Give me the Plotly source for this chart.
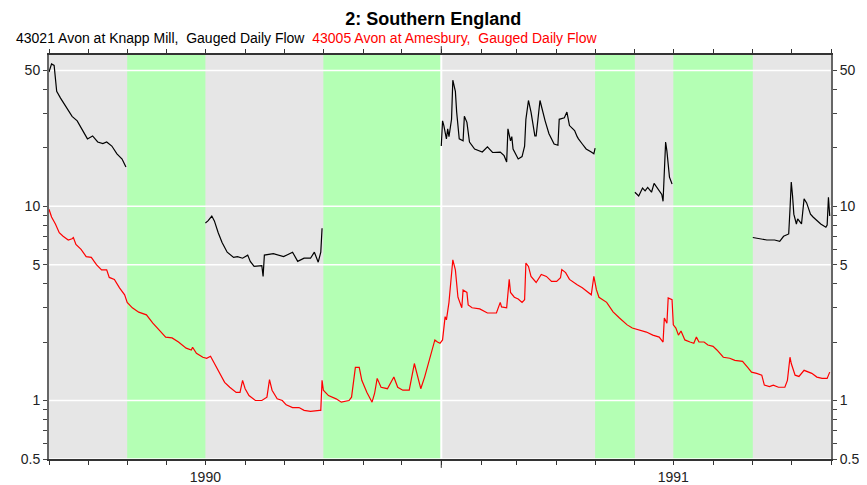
"""Southern England river flows, 1990-1991, log scale."""

import math

import pandas as pd
import plotly.graph_objects as go

# 43021 Avon at Knapp Mill, gauged daily flow (None = not shown)
knapp_dates = [
    '1990-03-01', '1990-03-03', '1990-03-05', '1990-03-06', '1990-03-07', '1990-03-10',
    '1990-03-14', '1990-03-19', '1990-03-23', '1990-03-27', '1990-03-31', '1990-04-04',
    '1990-04-08', '1990-04-12', '1990-04-15', '1990-04-19', '1990-04-23', '1990-04-27',
    '1990-04-30', '1990-05-15',
    '1990-07-01', '1990-07-03', '1990-07-06', '1990-07-08', '1990-07-11', '1990-07-14',
    '1990-07-18', '1990-07-23', '1990-07-26', '1990-07-30', '1990-08-03', '1990-08-05',
    '1990-08-08', '1990-08-14', '1990-08-15', '1990-08-16', '1990-08-23', '1990-08-31',
    '1990-09-07', '1990-09-11', '1990-09-16', '1990-09-21', '1990-09-24', '1990-09-27',
    '1990-09-29', '1990-09-30', '1990-11-15',
    '1991-01-01', '1991-01-02', '1991-01-03', '1991-01-05', '1991-01-06', '1991-01-07',
    '1991-01-09', '1991-01-10', '1991-01-12', '1991-01-13', '1991-01-15', '1991-01-18',
    '1991-01-19', '1991-01-21', '1991-01-23', '1991-01-27', '1991-02-02', '1991-02-06',
    '1991-02-10', '1991-02-16', '1991-02-19', '1991-02-21', '1991-02-22', '1991-02-24',
    '1991-02-25', '1991-02-26', '1991-03-02', '1991-03-05', '1991-03-07', '1991-03-08',
    '1991-03-10', '1991-03-12', '1991-03-15', '1991-03-16', '1991-03-19', '1991-03-21',
    '1991-03-23', '1991-03-26', '1991-03-30', '1991-04-02', '1991-04-03', '1991-04-07',
    '1991-04-09', '1991-04-11', '1991-04-15', '1991-04-17', '1991-04-18', '1991-04-21',
    '1991-04-24', '1991-04-28', '1991-04-30', '1991-05-01', '1991-05-15',
    '1991-06-01', '1991-06-04', '1991-06-07', '1991-06-09', '1991-06-11', '1991-06-14',
    '1991-06-16', '1991-06-19', '1991-06-22', '1991-06-23', '1991-06-24', '1991-06-25',
    '1991-06-26', '1991-06-27', '1991-06-28', '1991-06-30', '1991-08-01',
    '1991-09-01', '1991-09-07', '1991-09-12', '1991-09-18', '1991-09-22', '1991-09-25',
    '1991-09-29', '1991-09-30', '1991-10-01', '1991-10-02', '1991-10-03', '1991-10-05',
    '1991-10-06', '1991-10-09', '1991-10-11', '1991-10-13', '1991-10-16', '1991-10-18',
    '1991-10-24', '1991-10-28', '1991-10-29', '1991-10-30', '1991-10-31',
]
knapp_flow = [
    49, 54, 53, 45, 39, 36,
    32.5, 29, 27.5, 24.5, 22.2, 23,
    21.4, 21.0, 21.4, 20.4, 18.6, 17.5,
    15.9, None,
    8.2, 8.4, 8.9, 8.4, 7.3, 6.5,
    5.8, 5.45, 5.5, 5.4, 5.6, 5.2,
    4.9, 4.95, 4.35, 5.6, 5.7, 5.5,
    5.8, 5.2, 5.4, 5.4, 5.8, 5.15,
    5.8, 7.7, None,
    20.4, 27.5, 26, 22.2, 25, 22.8,
    28, 44.5, 39, 30.5, 22.2, 21.7,
    29, 27, 21.4, 19.7, 19, 20.2,
    18.9, 19, 18.2, 16.9, 25, 21.7,
    22.8, 19.7, 17.5, 18, 20.4, 28,
    35, 30.5, 23, 23, 35, 30.5,
    27.5, 23.6, 20.9, 20.6, 28, 28.5,
    30.5, 26, 24.5, 22.8, 22.2, 20.9,
    19.7, 19, 18.6, 19.9, None,
    11.8, 11.3, 12.4, 12, 12.5, 11.8,
    13.1, 12.2, 11.5, 10.6, 15.2, 21.4,
    19.2, 16.5, 14.1, 13, None,
    6.9, 6.8, 6.7, 6.7, 6.6, 7.0,
    7.2, 9.6, 13.3, 11.3, 9.1, 8.1,
    8.6, 8.1, 10.9, 10.4, 9.1, 8.8,
    8.1, 7.8, 8.0, 11.1, 8.9,
]

# 43005 Avon at Amesbury, gauged daily flow
amesbury_dates = [
    '1990-03-01', '1990-03-03', '1990-03-06', '1990-03-09', '1990-03-12', '1990-03-16',
    '1990-03-19', '1990-03-20', '1990-03-22', '1990-03-26', '1990-03-30', '1990-04-03',
    '1990-04-07', '1990-04-11', '1990-04-15', '1990-04-17', '1990-04-21', '1990-04-25',
    '1990-04-29', '1990-05-01', '1990-05-05', '1990-05-10', '1990-05-16', '1990-05-21',
    '1990-05-26', '1990-05-31', '1990-06-05', '1990-06-10', '1990-06-16', '1990-06-20',
    '1990-06-21', '1990-06-24', '1990-06-29', '1990-07-02', '1990-07-05', '1990-07-08',
    '1990-07-12', '1990-07-16', '1990-07-20', '1990-07-25', '1990-07-28', '1990-07-30',
    '1990-08-01', '1990-08-04', '1990-08-09', '1990-08-14', '1990-08-18', '1990-08-20',
    '1990-08-22', '1990-08-26', '1990-08-30', '1990-09-02', '1990-09-07', '1990-09-12',
    '1990-09-16', '1990-09-21', '1990-09-28', '1990-09-29', '1990-09-30', '1990-10-01',
    '1990-10-05', '1990-10-11', '1990-10-15', '1990-10-21', '1990-10-23', '1990-10-26',
    '1990-10-29', '1990-10-31', '1990-11-04', '1990-11-08', '1990-11-10', '1990-11-12',
    '1990-11-15', '1990-11-20', '1990-11-25', '1990-11-28', '1990-12-02', '1990-12-07',
    '1990-12-11', '1990-12-13', '1990-12-16', '1990-12-19', '1990-12-21', '1990-12-24',
    '1990-12-27', '1990-12-29', '1990-12-31', '1991-01-02', '1991-01-03', '1991-01-04',
    '1991-01-05', '1991-01-07', '1991-01-10', '1991-01-12', '1991-01-14', '1991-01-17',
    '1991-01-18', '1991-01-21', '1991-01-22', '1991-01-25', '1991-01-31', '1991-02-06',
    '1991-02-13', '1991-02-16', '1991-02-17', '1991-02-21', '1991-02-23', '1991-02-24',
    '1991-02-27', '1991-03-02', '1991-03-05', '1991-03-07', '1991-03-08', '1991-03-10',
    '1991-03-12', '1991-03-16', '1991-03-20', '1991-03-24', '1991-03-28', '1991-04-01',
    '1991-04-04', '1991-04-05', '1991-04-08', '1991-04-11', '1991-04-17', '1991-04-21',
    '1991-04-28', '1991-04-29', '1991-04-30', '1991-05-02', '1991-05-04', '1991-05-10',
    '1991-05-15', '1991-05-20', '1991-05-26', '1991-05-30', '1991-06-05', '1991-06-10',
    '1991-06-15', '1991-06-20', '1991-06-23', '1991-06-24', '1991-06-26', '1991-06-27',
    '1991-06-30', '1991-07-01', '1991-07-03', '1991-07-05', '1991-07-07', '1991-07-10',
    '1991-07-14', '1991-07-17', '1991-07-19', '1991-07-21', '1991-07-25', '1991-07-28',
    '1991-08-01', '1991-08-04', '1991-08-09', '1991-08-14', '1991-08-18', '1991-08-24',
    '1991-08-28', '1991-08-31', '1991-09-04', '1991-09-08', '1991-09-10', '1991-09-14',
    '1991-09-17', '1991-09-21', '1991-09-26', '1991-09-28', '1991-09-30', '1991-10-01',
    '1991-10-04', '1991-10-07', '1991-10-11', '1991-10-14', '1991-10-17', '1991-10-21',
    '1991-10-25', '1991-10-29', '1991-10-31',
]
amesbury_flow = [
    9.65, 8.8, 8.1, 7.3, 7.0, 6.7,
    6.8, 6.9, 6.35, 6.0, 5.5, 5.45,
    5.0, 4.7, 4.7, 4.3, 4.2, 3.8,
    3.5, 3.2, 3.0, 2.85, 2.76, 2.5,
    2.3, 2.12, 2.1, 2.0, 1.86, 1.82,
    1.88, 1.75, 1.67, 1.65, 1.69, 1.55,
    1.4, 1.24, 1.17, 1.10, 1.10, 1.27,
    1.15, 1.06, 1.0, 1.0, 1.04, 1.28,
    1.13, 1.02, 1.0, 0.95, 0.92, 0.92,
    0.89, 0.88, 0.89, 0.89, 1.27, 1.13,
    1.06, 1.02, 0.98, 1.0, 1.04, 1.48,
    1.48, 1.27, 1.10, 0.98, 1.09, 1.30,
    1.17, 1.15, 1.32, 1.17, 1.13, 1.13,
    1.55, 1.38, 1.15, 1.32, 1.48, 1.75,
    2.05, 2.0, 1.97, 2.05, 2.4, 2.7,
    2.6, 3.2, 5.3, 4.7, 3.4, 3.0,
    3.7, 3.6, 3.1, 3.0, 2.96, 2.82,
    2.82, 3.2, 3.03, 3.0, 4.2, 3.6,
    3.4, 3.33, 3.2, 3.3, 5.1, 4.9,
    4.35, 4.05, 4.45, 4.35, 4.1, 4.1,
    4.28, 4.72, 4.55, 4.2, 3.94, 3.8,
    3.5, 3.85, 4.35, 3.72, 3.4, 3.2,
    2.86, 2.66, 2.45, 2.36, 2.3, 2.25,
    2.17, 2.12, 2.0, 2.66, 2.5, 3.37,
    3.3, 2.45, 2.36, 2.17, 2.28, 2.05,
    2.0, 1.97, 2.12, 2.0, 2.0, 1.93,
    1.90, 1.82, 1.67, 1.65, 1.61, 1.59,
    1.48, 1.40, 1.38, 1.35, 1.20, 1.18,
    1.20, 1.17, 1.17, 1.27, 1.67, 1.55,
    1.35, 1.33, 1.43, 1.41, 1.38, 1.32,
    1.30, 1.30, 1.40,
]

# shaded (green) periods
green_starts = ['1990-05-01', '1990-10-01', '1991-05-01', '1991-07-01']
green_ends = ['1990-07-01', '1991-01-01', '1991-06-01', '1991-09-01']

year_label_dates = ['1990-07-01', '1991-07-01']
year_labels = ['1990', '1991']
year_boundary = '1991-01-01'

y_major = [0.5, 1, 5, 10, 50]
y_major_labels = ['0.5', '1', '5', '10', '50']
y_minor = [0.6, 0.7, 0.8, 0.9, 2, 3, 4, 6, 7, 8, 9, 20, 30, 40]

x_range = ['1990-03-01', '1991-11-01']
y_range = [math.log10(0.5), math.log10(60)]

FONT = 'Liberation Sans, Arial, sans-serif'

# monthly ticks, labelled only where a year label sits
month_ticks = [d.strftime('%Y-%m-%d') for d in pd.date_range(x_range[0], x_range[1], freq='MS')]
month_text = [year_labels[year_label_dates.index(d)] if d in year_label_dates else ''
              for d in month_ticks]

y_tickvals = sorted(y_major + y_minor)
y_ticktext = [y_major_labels[y_major.index(v)] if v in y_major else '' for v in y_tickvals]

fig = go.Figure()
fig.add_trace(
    go.Scatter(
        x=knapp_dates,
        y=knapp_flow,
        mode='lines',
        name='43021 Avon at Knapp Mill',
        line=dict(color='#000000', width=1.2),
        connectgaps=False,
        showlegend=False,
    )
)
fig.add_trace(
    go.Scatter(
        x=amesbury_dates,
        y=amesbury_flow,
        mode='lines',
        name='43005 Avon at Amesbury',
        line=dict(color='#ff0000', width=1.2),
        yaxis='y2',
        showlegend=False,
    )
)

for start, end in zip(green_starts, green_ends):
    fig.add_vrect(x0=start, x1=end, fillcolor='#b4ffb4', line_width=0, layer='below')

# white grid lines at the labelled flows and at the year boundary
for v in y_major:
    fig.add_shape(type='line', xref='paper', yref='y', x0=0, x1=1, y0=v, y1=v,
                  line=dict(color='#ffffff', width=1.5), layer='below')
fig.add_shape(type='line', xref='x', yref='paper', x0=year_boundary, x1=year_boundary,
              y0=0, y1=1, line=dict(color='#ffffff', width=2), layer='below')
# longer ticks at the year boundary, top and bottom
fig.add_shape(type='line', xref='x', yref='paper', x0=year_boundary, x1=year_boundary,
              y0=0, y1=-0.022, line=dict(color='#333333', width=1))
fig.add_shape(type='line', xref='x', yref='paper', x0=year_boundary, x1=year_boundary,
              y0=1, y1=1.022, line=dict(color='#333333', width=1))

yaxis_common = dict(
    type='log',
    range=y_range,
    tickmode='array',
    tickvals=y_tickvals,
    ticktext=y_ticktext,
    ticks='outside',
    ticklen=4,
    tickcolor='#444444',
    tickfont=dict(family=FONT, size=14, color='#222222'),
    showline=True,
    linecolor='#666666',
    linewidth=2,
    showgrid=False,
    zeroline=False,
    automargin=False,
)

# the page body adds an 8 px offset, so the figure is sized to end at the window edge
fig.update_layout(
    width=859,
    height=477,
    margin=dict(l=41, r=36, t=47, b=26),
    paper_bgcolor='#ffffff',
    plot_bgcolor='#e6e6e6',
    font=dict(family=FONT, size=14, color='#222222'),
    title=dict(
        text='<b>2: Southern England</b>',
        x=0.495,
        xanchor='center',
        y=0.978,
        yanchor='middle',
        font=dict(family=FONT, size=18, color='#000000'),
    ),
    xaxis=dict(
        type='date',
        range=x_range,
        tickmode='array',
        tickvals=month_ticks,
        ticktext=month_text,
        ticks='outside',
        ticklen=4,
        tickcolor='#333333',
        showgrid=False,
        showline=True,
        linecolor='#333333',
        linewidth=1.5,
        mirror='ticks',
        tickfont=dict(family=FONT, size=14, color='#222222'),
        automargin=False,
    ),
    yaxis=dict(**yaxis_common, side='left'),
    yaxis2=dict(**yaxis_common, side='right', overlaying='y'),
    annotations=[
        dict(
            text='43021 Avon at Knapp Mill,  Gauged Daily Flow'
                 '  <span style="color:#ff0000">43005 Avon at Amesbury,  Gauged Daily Flow</span>',
            xref='paper', yref='paper',
            x=-0.045, y=1.042,
            xanchor='left', yanchor='middle',
            showarrow=False,
            font=dict(family=FONT, size=14, color='#000000'),
        )
    ],
)

fig.write_html('out.html')
